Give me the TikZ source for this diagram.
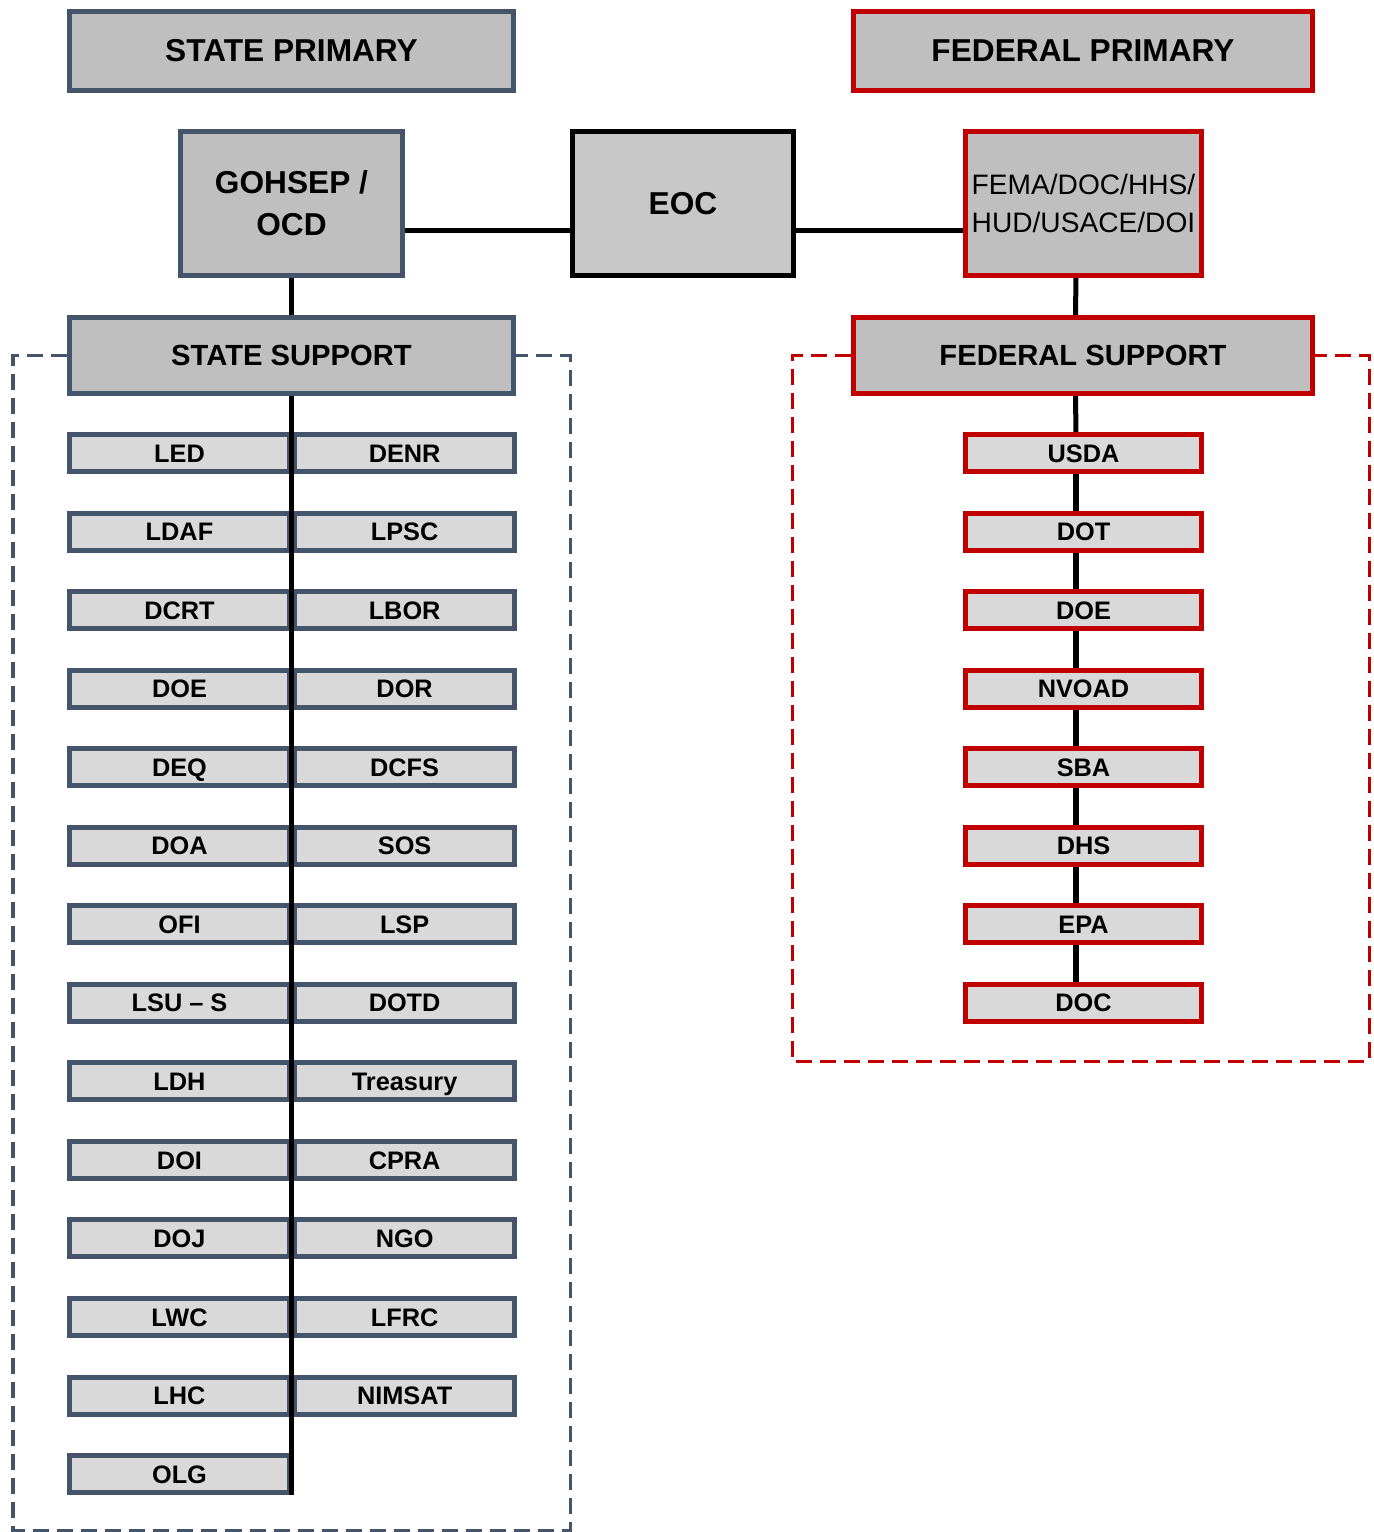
\documentclass[tikz,border=0pt]{standalone}
\usepackage{fontspec}
\setmainfont{Liberation Sans}
\usetikzlibrary{positioning}
\definecolor{slate}{HTML}{44546A}
\definecolor{fedred}{HTML}{C00000}
\definecolor{headgray}{HTML}{BFBFBF}
\definecolor{eocgray}{HTML}{C8C8C8}
\definecolor{unitgray}{HTML}{D9D9D9}

\begin{document}
\begin{tikzpicture}[x=0.01cm,y=-0.01cm,node distance=0.365cm]
  \tikzstyle{box}=[draw,line width=0.05cm,fill=headgray,align=center,inner sep=0pt]
  \tikzstyle{head}=[box,font=\fontsize{9}{12}\selectfont\bfseries,minimum width=4.44cm,minimum height=0.79cm]
  \tikzstyle{sub}=[head,font=\fontsize{8.3}{10}\selectfont\bfseries,minimum height=0.76cm]
  \tikzstyle{unit}=[box,fill=unitgray,font=\fontsize{7.2}{8}\selectfont\bfseries,minimum width=2.2cm,minimum height=0.37cm,text height=5.2pt,text depth=0pt]
  \tikzstyle{link}=[line width=0.05cm]
  \tikzstyle{group}=[line width=0.03cm,dash pattern=on 0.16cm off 0.08cm]
  \useasboundingbox (0,0) rectangle (1374,1532);

  % primary level
  \node[head,draw=slate] (sprim) at (291.5,51) {STATE PRIMARY};
  \node[head,draw=fedred,minimum width=4.59cm] (fprim) at (1083,51) {FEDERAL PRIMARY};
  \node[head,draw=slate,minimum width=2.22cm,minimum height=1.44cm] (gohsep) at (291.5,203.5) {GOHSEP /\\OCD};
  \node[head,draw=black,fill=eocgray,minimum width=2.21cm,minimum height=1.44cm] (eoc) at (683,203.5) {EOC};
  \node[box,draw=fedred,minimum width=2.36cm,minimum height=1.44cm,font=\fontsize{8}{10.8}\selectfont] (fema) at (1083.5,203.5) {FEMA/DOC/HHS/\\HUD/USACE/DOI};
  \node[sub,draw=slate] (ssup) at (291.5,355.5) {STATE SUPPORT};
  \node[sub,draw=fedred,minimum width=4.59cm] (fsup) at (1083,355.5) {FEDERAL SUPPORT};

  % state support agencies
  \node[unit,draw=slate] (led) at (179.5,453) {LED};
  \node[unit,draw=slate,right=0pt of led] (denr) {DENR};
  \node[unit,draw=slate,below=of led] (ldaf) {LDAF};
  \node[unit,draw=slate,right=0pt of ldaf] (lpsc) {LPSC};
  \node[unit,draw=slate,below=of ldaf] (dcrt) {DCRT};
  \node[unit,draw=slate,right=0pt of dcrt] (lbor) {LBOR};
  \node[unit,draw=slate,below=of dcrt] (sdoe) {DOE};
  \node[unit,draw=slate,right=0pt of sdoe] (dor) {DOR};
  \node[unit,draw=slate,below=of sdoe] (deq) {DEQ};
  \node[unit,draw=slate,right=0pt of deq] (dcfs) {DCFS};
  \node[unit,draw=slate,below=of deq] (doa) {DOA};
  \node[unit,draw=slate,right=0pt of doa] (sos) {SOS};
  \node[unit,draw=slate,below=of doa] (ofi) {OFI};
  \node[unit,draw=slate,right=0pt of ofi] (lsp) {LSP};
  \node[unit,draw=slate,below=of ofi] (lsus) {LSU -- S};
  \node[unit,draw=slate,right=0pt of lsus] (dotd) {DOTD};
  \node[unit,draw=slate,below=of lsus] (ldh) {LDH};
  \node[unit,draw=slate,right=0pt of ldh] (treas) {Treasury};
  \node[unit,draw=slate,below=of ldh] (doi) {DOI};
  \node[unit,draw=slate,right=0pt of doi] (cpra) {CPRA};
  \node[unit,draw=slate,below=of doi] (doj) {DOJ};
  \node[unit,draw=slate,right=0pt of doj] (ngo) {NGO};
  \node[unit,draw=slate,below=of doj] (lwc) {LWC};
  \node[unit,draw=slate,right=0pt of lwc] (lfrc) {LFRC};
  \node[unit,draw=slate,below=of lwc] (lhc) {LHC};
  \node[unit,draw=slate,right=0pt of lhc] (nimsat) {NIMSAT};
  \node[unit,draw=slate,below=of lhc] (olg) {OLG};

  % federal support agencies
  \node[unit,draw=fedred,minimum width=2.36cm] (usda) at (1083.5,453) {USDA};
  \node[unit,draw=fedred,minimum width=2.36cm,below=of usda] (dot) {DOT};
  \node[unit,draw=fedred,minimum width=2.36cm,below=of dot] (fdoe) {DOE};
  \node[unit,draw=fedred,minimum width=2.36cm,below=of fdoe] (nvoad) {NVOAD};
  \node[unit,draw=fedred,minimum width=2.36cm,below=of nvoad] (sba) {SBA};
  \node[unit,draw=fedred,minimum width=2.36cm,below=of sba] (dhs) {DHS};
  \node[unit,draw=fedred,minimum width=2.36cm,below=of dhs] (epa) {EPA};
  \node[unit,draw=fedred,minimum width=2.36cm,below=of epa] (doc) {DOC};

  % connectors
  \draw[link] ([yshift=-0.27cm]gohsep.east) -- ([yshift=-0.27cm]eoc.west);
  \draw[link] ([yshift=-0.27cm]eoc.east) -- ([yshift=-0.27cm]fema.west);
  \draw[link] (gohsep) -- (ssup);
  \draw[link] (ssup.south) -- (ssup.south |- olg.south);
  \draw[link] ([xshift=-0.075cm]fema.south) -- ([xshift=-0.075cm]fsup.north);
  \draw[link] ([xshift=-0.075cm]fsup.south) -- ([xshift=-0.075cm]usda.north);
  \draw[link] ([xshift=-0.075cm]usda.south) -- ([xshift=-0.075cm]dot.north);
  \draw[link] ([xshift=-0.075cm]dot.south) -- ([xshift=-0.075cm]fdoe.north);
  \draw[link] ([xshift=-0.075cm]fdoe.south) -- ([xshift=-0.075cm]nvoad.north);
  \draw[link] ([xshift=-0.075cm]nvoad.south) -- ([xshift=-0.075cm]sba.north);
  \draw[link] ([xshift=-0.075cm]sba.south) -- ([xshift=-0.075cm]dhs.north);
  \draw[link] ([xshift=-0.075cm]dhs.south) -- ([xshift=-0.075cm]epa.north);
  \draw[link] ([xshift=-0.075cm]epa.south) -- ([xshift=-0.075cm]doc.north);

  % dashed groups
  \coordinate (sgl) at (13,1530);
  \coordinate (sgr) at (570,1530);
  \coordinate (fgl) at (792,1061);
  \coordinate (fgr) at (1369,1061);
  \draw[group,draw=slate] (ssup.west) -| (sgl) -- (sgr) |- (ssup.east);
  \draw[group,draw=fedred] (fsup.west) -| (fgl) -- (fgr) |- (fsup.east);
\end{tikzpicture}
\end{document}
